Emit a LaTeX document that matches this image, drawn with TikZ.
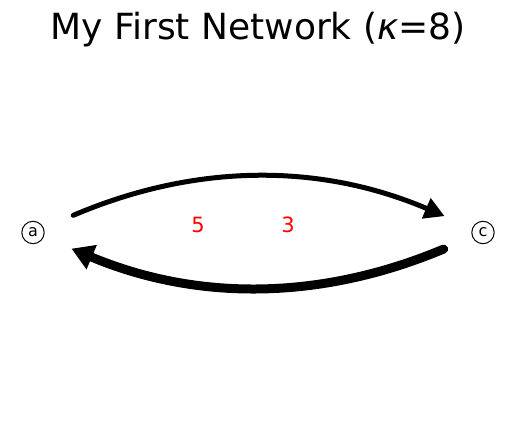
\documentclass[tikz,border=0pt]{standalone}
\usepackage{fontspec}
\setmainfont{DejaVu Sans}
\usetikzlibrary{arrows.meta}

\begin{document}
\begin{tikzpicture}[x=1pt,y=-1pt,
    vertex/.style={draw, circle, line width=1pt, minimum size=22.4pt, inner sep=0pt, font=\fontsize{16}{16}\selectfont},
    weight/.style={text=red, anchor=base, font=\fontsize{21}{21}\selectfont},
    link/.style={line cap=round, line join=round}]
          \useasboundingbox (0,0) rectangle (515,427);

          \node[anchor=base, font=\fontsize{36}{36}\selectfont] (title) at (258,40) {My First Network (\textit{κ}=8)};

          \node[vertex] (a) at (33,232.5) {a};
          \node[vertex] (c) at (483,232.5) {c};

          \draw[link, line width=5pt, shorten <=32pt, shorten >=30pt,
                -{Triangle[length=20pt,width=21pt]}]
                (a) .. controls (196,163) and (320,163) .. (c);
          \draw[link, line width=9pt, shorten <=31pt, shorten >=30pt,
                -{Triangle[length=22pt,width=25pt]}]
                (c) .. controls (320,301) and (196,301) .. (a);

          \node[weight] (w5) at (198,233) {5};
          \node[weight] (w3) at (288,233) {3};
        \end{tikzpicture}
\end{document}
